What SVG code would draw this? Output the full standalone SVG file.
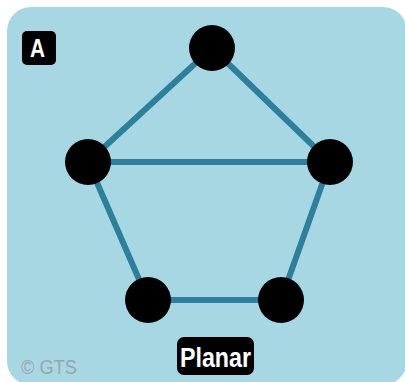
<svg xmlns="http://www.w3.org/2000/svg" width="405" height="382" viewBox="0 0 405 382">
  <style>
    .edge { stroke: #2e7f9c; stroke-width: 6; stroke-linecap: round; fill: none; }
    .node { fill: #000000; }
    .tag { fill: #000000; }
    .tagtext { fill: #ffffff; font-family: "Liberation Sans", Arial, sans-serif; font-weight: bold; }
  </style>
  <rect x="7" y="7" width="400" height="378" rx="24" fill="#a8d7e4"/>

  <g id="connectors">
    <line class="edge" x1="212" y1="48" x2="88" y2="162"/>
    <line class="edge" x1="212" y1="48" x2="330" y2="162"/>
    <line class="edge" x1="88" y1="162" x2="330" y2="162"/>
    <line class="edge" x1="88" y1="162" x2="148" y2="300"/>
    <line class="edge" x1="330" y1="162" x2="281" y2="300"/>
    <line class="edge" x1="148" y1="300" x2="281" y2="300"/>
  </g>

  <g id="n-top"><circle class="node" cx="212" cy="48" r="23"/></g>
  <g id="n-left"><circle class="node" cx="88" cy="162" r="23"/></g>
  <g id="n-right"><circle class="node" cx="330" cy="162" r="23"/></g>
  <g id="n-bottom-left"><circle class="node" cx="148" cy="300" r="23"/></g>
  <g id="n-bottom-right"><circle class="node" cx="281" cy="300" r="23"/></g>

  <g id="label-a">
    <rect class="tag" x="22" y="31" width="34" height="34" rx="5"/>
    <text class="tagtext" x="30" y="57" font-size="26" textLength="15" lengthAdjust="spacingAndGlyphs">A</text>
  </g>

  <g id="label-planar">
    <rect class="tag" x="177" y="337" width="77" height="38" rx="7"/>
    <text class="tagtext" x="180" y="367" font-size="27" textLength="71" lengthAdjust="spacingAndGlyphs">Planar</text>
  </g>

  <text x="21" y="374" font-family="Liberation Sans, Arial, sans-serif" font-size="20" fill="#97a7ad" textLength="56" lengthAdjust="spacingAndGlyphs">© GTS</text>
</svg>
